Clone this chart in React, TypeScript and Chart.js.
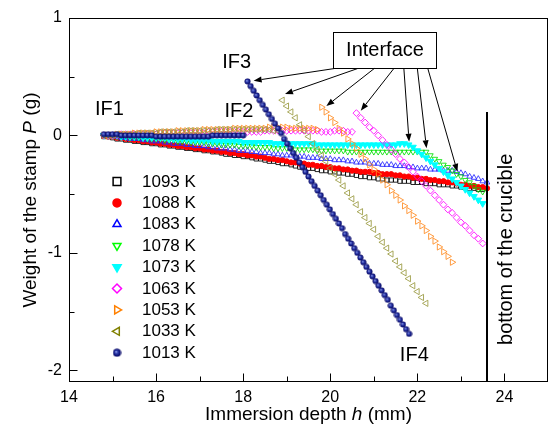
import React, { useEffect, useRef } from 'react';
import { Chart, registerables } from 'chart.js';
import { drawPoint } from 'chart.js/helpers';

Chart.register(...registerables);

// ---------------- data (immersion depth h in mm, weight P in g) ----------------
const depthGrid = [
  14.8, 14.9, 15.0, 15.1, 15.2, 15.3, 15.4, 15.5, 15.6, 15.7,
  15.8, 15.9, 16.0, 16.1, 16.2, 16.3, 16.4, 16.5, 16.6, 16.7,
  16.8, 16.9, 17.0, 17.1, 17.2, 17.3, 17.4, 17.5, 17.6, 17.7,
  17.8, 17.9, 18.0, 18.1, 18.2, 18.3, 18.4, 18.5, 18.6, 18.7,
  18.8, 18.9, 19.0, 19.1, 19.2, 19.3, 19.4, 19.5, 19.6, 19.7,
  19.8, 19.9, 20.0, 20.1, 20.2, 20.3, 20.4, 20.5, 20.6, 20.7,
  20.8, 20.9, 21.0, 21.1, 21.2, 21.3, 21.4, 21.5, 21.6, 21.7,
  21.8, 21.9, 22.0, 22.1, 22.2, 22.3, 22.4, 22.5, 22.6, 22.7,
  22.8, 22.9, 23.0, 23.1, 23.2, 23.3, 23.4, 23.5, 23.6,
];

const weight1093 = [
  -0.01, -0.01, -0.02, -0.03, -0.03, -0.04, -0.04, -0.05, -0.05, -0.06,
  -0.06, -0.07, -0.07, -0.08, -0.08, -0.09, -0.09, -0.10, -0.10, -0.11,
  -0.11, -0.12, -0.12, -0.13, -0.13, -0.14, -0.14, -0.15, -0.16, -0.16,
  -0.17, -0.17, -0.18, -0.18, -0.19, -0.20, -0.20, -0.21, -0.22, -0.22,
  -0.23, -0.24, -0.24, -0.25, -0.26, -0.27, -0.27, -0.28, -0.28, -0.29,
  -0.30, -0.30, -0.31, -0.31, -0.32, -0.32, -0.33, -0.33, -0.34, -0.35,
  -0.35, -0.36, -0.36, -0.37, -0.37, -0.38, -0.38, -0.38, -0.39, -0.39,
  -0.39, -0.40, -0.40, -0.40, -0.41, -0.41, -0.41, -0.42, -0.42, -0.42,
  -0.43, -0.43, -0.44, -0.44, -0.45, -0.45, -0.46, -0.46, null,
];

const weight1088 = [
  0.00, -0.01, -0.01, -0.02, -0.02, -0.03, -0.03, -0.04, -0.04, -0.05,
  -0.05, -0.06, -0.06, -0.07, -0.07, -0.08, -0.08, -0.09, -0.09, -0.10,
  -0.10, -0.11, -0.11, -0.12, -0.12, -0.13, -0.13, -0.14, -0.14, -0.15,
  -0.15, -0.16, -0.16, -0.17, -0.17, -0.18, -0.18, -0.19, -0.20, -0.20,
  -0.21, -0.21, -0.22, -0.23, -0.23, -0.24, -0.24, -0.25, -0.25, -0.26,
  -0.26, -0.27, -0.27, -0.28, -0.28, -0.29, -0.29, -0.30, -0.30, -0.31,
  -0.31, -0.31, -0.32, -0.32, -0.33, -0.33, -0.33, -0.34, -0.34, -0.35,
  -0.35, -0.36, -0.36, -0.37, -0.37, -0.38, -0.38, -0.39, -0.39, -0.40,
  -0.40, -0.41, -0.42, -0.42, -0.43, -0.43, -0.44, -0.44, -0.45,
];

const weight1083 = [
  0.00, 0.00, -0.01, -0.01, -0.02, -0.02, -0.03, -0.03, -0.03, -0.04,
  -0.04, -0.05, -0.05, -0.05, -0.06, -0.06, -0.07, -0.07, -0.07, -0.08,
  -0.08, -0.09, -0.09, -0.09, -0.10, -0.10, -0.11, -0.11, -0.11, -0.12,
  -0.12, -0.13, -0.13, -0.13, -0.14, -0.14, -0.15, -0.15, -0.15, -0.16,
  -0.16, -0.17, -0.17, -0.17, -0.18, -0.18, -0.18, -0.19, -0.19, -0.19,
  -0.20, -0.20, -0.20, -0.21, -0.21, -0.21, -0.22, -0.22, -0.23, -0.23,
  -0.23, -0.24, -0.24, -0.24, -0.25, -0.25, -0.25, -0.26, -0.26, -0.26,
  -0.27, -0.27, -0.28, -0.28, -0.28, -0.29, -0.29, -0.29, -0.30, -0.30,
  -0.30, -0.31, -0.32, -0.33, -0.35, -0.36, -0.37, -0.39, -0.40,
];

const weight1078 = [
  0.00, 0.00, 0.00, -0.01, -0.01, -0.01, -0.02, -0.02, -0.02, -0.02,
  -0.03, -0.03, -0.03, -0.03, -0.04, -0.04, -0.04, -0.05, -0.05, -0.05,
  -0.06, -0.06, -0.06, -0.06, -0.07, -0.07, -0.07, -0.08, -0.08, -0.08,
  -0.08, -0.09, -0.09, -0.09, -0.09, -0.10, -0.10, -0.10, -0.10, -0.11,
  -0.11, -0.11, -0.11, -0.11, -0.12, -0.12, -0.12, -0.12, -0.12, -0.13,
  -0.13, -0.13, -0.13, -0.13, -0.13, -0.13, -0.14, -0.14, -0.14, -0.14,
  -0.14, -0.14, -0.14, -0.14, -0.14, -0.14, -0.14, -0.14, -0.14, -0.14,
  -0.14, -0.14, -0.14, -0.14, -0.14, -0.17, -0.20, -0.22, -0.25, -0.27,
  -0.30, -0.33, -0.35, -0.38, -0.40, -0.43, -0.46, -0.48, null,
];

const weight1073 = [
  0.00, 0.00, 0.00, 0.00, -0.01, -0.01, -0.01, -0.01, -0.01, -0.02,
  -0.02, -0.02, -0.02, -0.02, -0.02, -0.03, -0.03, -0.03, -0.03, -0.03,
  -0.04, -0.04, -0.04, -0.04, -0.04, -0.05, -0.05, -0.05, -0.05, -0.05,
  -0.05, -0.05, -0.06, -0.06, -0.06, -0.06, -0.06, -0.06, -0.06, -0.07,
  -0.07, -0.07, -0.07, -0.07, -0.07, -0.07, -0.07, -0.07, -0.07, -0.08,
  -0.08, -0.08, -0.08, -0.08, -0.08, -0.08, -0.08, -0.08, -0.08, -0.08,
  -0.08, -0.08, -0.08, -0.08, -0.08, -0.08, -0.08, -0.08, -0.07, -0.07,
  -0.08, -0.10, -0.13, -0.16, -0.19, -0.22, -0.25, -0.28, -0.31, -0.34,
  -0.37, -0.40, -0.43, -0.46, -0.49, -0.52, -0.55, -0.58, null,
];

const weight1063 = [
  0.00, 0.00, 0.00, 0.00, 0.01, 0.01, 0.01, 0.01, 0.01, 0.01,
  0.01, 0.01, 0.01, 0.02, 0.02, 0.02, 0.02, 0.02, 0.02, 0.02,
  0.02, 0.02, 0.02, 0.02, 0.03, 0.03, 0.03, 0.03, 0.03, 0.03,
  0.03, 0.03, 0.03, 0.03, 0.03, 0.03, 0.03, 0.04, 0.04, 0.04,
  0.04, 0.04, 0.04, 0.04, 0.04, 0.04, 0.04, 0.04, 0.04, 0.04,
  0.03, 0.03, 0.03, 0.04, 0.04, 0.04, 0.03, 0.03, 0.19, 0.15,
  0.11, 0.07, 0.04, 0.00, -0.04, -0.08, -0.12, -0.16, -0.20, -0.23,
  -0.27, -0.31, -0.35, -0.39, -0.43, -0.47, -0.51, -0.55, -0.59, -0.63,
  -0.66, -0.70, -0.74, -0.77, -0.81, -0.85, -0.88, -0.92, null,
];

const weight1053 = [
  0.00, 0.00, 0.00, 0.01, 0.01, 0.01, 0.01, 0.02, 0.02, 0.02,
  0.02, 0.02, 0.03, 0.03, 0.03, 0.03, 0.03, 0.04, 0.04, 0.04,
  0.04, 0.04, 0.04, 0.05, 0.05, 0.05, 0.05, 0.05, 0.05, 0.05,
  0.06, 0.06, 0.06, 0.06, 0.06, 0.06, 0.06, 0.06, 0.07, 0.07,
  0.07, 0.07, 0.07, 0.06, 0.06, 0.06, 0.06, 0.06, 0.06, 0.05,
  0.24, 0.20, 0.15, 0.11, 0.06, 0.02, -0.03, -0.07, -0.11, -0.16,
  -0.20, -0.25, -0.29, -0.33, -0.38, -0.42, -0.47, -0.51, -0.55, -0.60,
  -0.64, -0.68, -0.73, -0.77, -0.81, -0.86, -0.90, -0.95, -0.99, -1.03,
  -1.08, null, null, null, null, null, null, null, null,
];

const weight1033 = [
  0.00, 0.00, 0.00, 0.01, 0.01, 0.01, 0.01, 0.01, 0.02, 0.02,
  0.02, 0.02, 0.02, 0.03, 0.03, 0.03, 0.03, 0.03, 0.03, 0.04,
  0.04, 0.04, 0.04, 0.04, 0.04, 0.04, 0.05, 0.05, 0.05, 0.05,
  0.05, 0.05, 0.05, 0.05, 0.05, 0.05, 0.05, 0.05, 0.05, 0.04,
  0.04, 0.30, 0.25, 0.20, 0.15, 0.09, 0.04, -0.01, -0.07, -0.12,
  -0.17, -0.22, -0.28, -0.33, -0.38, -0.43, -0.49, -0.54, -0.59, -0.65,
  -0.70, -0.75, -0.80, -0.86, -0.91, -0.96, -1.01, -1.07, -1.12, -1.17,
  -1.22, -1.28, -1.33, -1.38, -1.43, null, null, null, null, null,
  null, null, null, null, null, null, null, null, null,
];

// 1013 K: plateau read on depthGrid[0..32], then the steep branch
const weight1013Plateau = [
  0.01, 0.01, 0.01, 0.01, 0.00, 0.00, 0.00, 0.00, 0.00, 0.00,
  0.00, 0.00, -0.01, -0.01, -0.01, -0.01, -0.01, -0.01, -0.01, -0.01,
  -0.01, -0.01, -0.01, -0.01, -0.01, 0.00, 0.00, 0.00, 0.00, 0.00,
  0.00, 0.00, 0.00,
];
const depth1013Steep = [
  18.10, 18.17, 18.24, 18.31, 18.38, 18.45, 18.52, 18.59, 18.66, 18.73,
  18.80, 18.87, 18.94, 19.01, 19.08, 19.15, 19.22, 19.29, 19.36, 19.43,
  19.50, 19.57, 19.64, 19.71, 19.78, 19.85, 19.92, 19.99, 20.06, 20.13,
  20.20, 20.27, 20.34, 20.41, 20.48, 20.55, 20.62, 20.69, 20.76, 20.83,
  20.90, 20.97, 21.04, 21.11, 21.18, 21.25, 21.32, 21.39, 21.46, 21.53,
  21.60, 21.67, 21.74, 21.81,
];
const weight1013Steep = [
  0.46, 0.42, 0.38, 0.34, 0.30, 0.26, 0.22, 0.18, 0.14, 0.10,
  0.06, 0.02, -0.03, -0.07, -0.11, -0.15, -0.19, -0.23, -0.27, -0.31,
  -0.35, -0.39, -0.43, -0.47, -0.51, -0.55, -0.59, -0.63, -0.67, -0.71,
  -0.75, -0.79, -0.84, -0.88, -0.92, -0.96, -1.00, -1.04, -1.08, -1.12,
  -1.16, -1.20, -1.24, -1.28, -1.32, -1.36, -1.40, -1.45, -1.49, -1.53,
  -1.57, -1.61, -1.65, -1.69,
];

const seriesNames = ['1093 K', '1088 K', '1083 K', '1078 K', '1073 K', '1063 K', '1053 K', '1033 K', '1013 K'];

const xMajorTicks = [14, 16, 18, 20, 22, 24];
const xMinorTicks = [15, 17, 19, 21, 23];
const yMajorTicks = [-2, -1, 0, 1];
const yMinorTicks = [-1.5, -0.5, 0.5];

const crucibleDepth = 23.6;
const crucibleLineTop = 0.2;

const ifLabels = ['IF1', 'IF3', 'IF2', 'IF4'];
const ifLabelDepth = [14.93, 17.85, 17.9, 21.93];
const ifLabelWeight = [0.225, 0.617, 0.2, -1.87];

const interfaceBoxDepth = [20.06, 22.43];
const interfaceBoxWeight = [0.574, 0.88];
const arrowStartDepth = [20.1, 20.63, 21.01, 21.46, 21.69, 22.0, 22.24];
const arrowTipDepth = [18.24, 18.96, 19.91, 20.7, 21.81, 22.21, 22.92];
const arrowTipWeight = [0.466, 0.353, 0.25, 0.21, -0.054, -0.11, -0.31];

// ---------------- styles ----------------
const FONT = '"Liberation Sans", Arial, Helvetica, sans-serif';

type Sty = { color: string; dataColor: string; fill: boolean; style: string; rot: number; r: number; lr: number };
const styles: Sty[] = [
  { color: '#000000', dataColor: '#000000', fill: false, style: 'rect', rot: 0, r: 3, lr: 5.5 },
  { color: '#ff0000', dataColor: '#ff0000', fill: true, style: 'circle', rot: 0, r: 2.6, lr: 4 },
  { color: '#0000ff', dataColor: '#2828ff', fill: false, style: 'triangle', rot: 0, r: 3.2, lr: 4.6 },
  { color: '#00ff00', dataColor: '#00e000', fill: false, style: 'triangle', rot: 180, r: 3.2, lr: 4.6 },
  { color: '#00ffff', dataColor: '#00ffff', fill: true, style: 'triangle', rot: 180, r: 3.8, lr: 4.8 },
  { color: '#ff00ff', dataColor: '#ff00ff', fill: false, style: 'rectRot', rot: 0, r: 3.4, lr: 4.5 },
  { color: '#ff8000', dataColor: '#ff8a20', fill: false, style: 'triangle', rot: 90, r: 3.6, lr: 4.6 },
  { color: '#808000', dataColor: '#9a9a40', fill: false, style: 'triangle', rot: 270, r: 3.6, lr: 4.6 },
  { color: '#000080', dataColor: '#000080', fill: true, style: 'sphere', rot: 0, r: 3, lr: 4 },
];

function makeSphere(r: number): HTMLCanvasElement {
  const c = document.createElement('canvas');
  const size = Math.ceil(r * 2) + 1;
  c.width = size;
  c.height = size;
  const g = c.getContext('2d')!;
  const cx = size / 2;
  const cy = size / 2;
  const grad = g.createRadialGradient(cx - r * 0.25, cy - r * 0.25, 0, cx, cy, r);
  grad.addColorStop(0, '#b8c0ff');
  grad.addColorStop(0.35, '#3040b0');
  grad.addColorStop(1, '#000060');
  g.fillStyle = grad;
  g.beginPath();
  g.arc(cx, cy, r, 0, Math.PI * 2);
  g.fill();
  return c;
}

function toPoints(hs: number[], ps: (number | null)[]) {
  const out: { x: number; y: number }[] = [];
  ps.forEach((p, i) => {
    if (p !== null && p !== undefined) out.push({ x: hs[i], y: p });
  });
  return out;
}

function drawMixed(ctx: CanvasRenderingContext2D, parts: [string, boolean][], size: number, cx: number, cy: number) {
  const fonts = parts.map(([, it]) => `${it ? 'italic ' : ''}${size}px ${FONT}`);
  let total = 0;
  const widths = parts.map(([t], i) => {
    ctx.font = fonts[i];
    const w = ctx.measureText(t).width;
    total += w;
    return w;
  });
  let x = cx - total / 2;
  ctx.textAlign = 'left';
  ctx.textBaseline = 'middle';
  parts.forEach(([t], i) => {
    ctx.font = fonts[i];
    ctx.fillText(t, x, cy);
    x += widths[i];
  });
}

export default function App() {
  const ref = useRef<HTMLCanvasElement | null>(null);

  useEffect(() => {
    const canvas = ref.current;
    if (!canvas) return;
    const sphere = makeSphere(3);
    const sphereLegend = makeSphere(4);

    const weights = [weight1093, weight1088, weight1083, weight1078, weight1073, weight1063, weight1053, weight1033];
    const datasets: any[] = weights.map((w, i) => {
      const s = styles[i];
      return {
        label: seriesNames[i],
        data: toPoints(depthGrid, w),
        showLine: false,
        pointStyle: s.style,
        pointRotation: s.rot,
        pointRadius: s.r,
        pointBorderWidth: s.fill ? 1 : 0.85,
        pointBorderColor: s.dataColor,
        pointBackgroundColor: s.fill ? s.dataColor : 'rgba(0,0,0,0)',
        order: 9 - i,
      };
    });
    datasets.push({
      label: seriesNames[8],
      data: toPoints(depthGrid, weight1013Plateau).concat(toPoints(depth1013Steep, weight1013Steep)),
      showLine: false,
      pointStyle: sphere,
      pointRadius: 3,
      pointBorderWidth: 0,
      order: 1,
    });

    const overlay = {
      id: 'overlay',
      afterDraw(chart: any) {
        const { ctx, chartArea: a } = chart;
        const xs = chart.scales.x;
        const ys = chart.scales.y;
        const X = (v: number) => xs.getPixelForValue(v);
        const Y = (v: number) => ys.getPixelForValue(v);
        ctx.save();
        ctx.strokeStyle = '#000';
        ctx.fillStyle = '#000';
        ctx.lineWidth = 1;
        const L = Math.round(a.left) + 0.5;
        const R = Math.round(a.right) - 0.5;
        const T = Math.round(a.top) + 0.5;
        const B = Math.round(a.bottom) - 0.5;
        ctx.strokeRect(L, T, R - L, B - T);
        // inward ticks
        ctx.beginPath();
        xMajorTicks.forEach((v) => { const px = Math.round(X(v)) + 0.5; ctx.moveTo(px, B); ctx.lineTo(px, B - 8); });
        xMinorTicks.forEach((v) => { const px = Math.round(X(v)) + 0.5; ctx.moveTo(px, B); ctx.lineTo(px, B - 5); });
        yMajorTicks.forEach((v) => { const py = Math.round(Y(v)) + 0.5; ctx.moveTo(L, py); ctx.lineTo(L + 8, py); });
        yMinorTicks.forEach((v) => { const py = Math.round(Y(v)) + 0.5; ctx.moveTo(L, py); ctx.lineTo(L + 5, py); });
        ctx.stroke();

        // crucible bottom line
        ctx.lineWidth = 2;
        ctx.beginPath();
        const cxp = Math.round(X(crucibleDepth));
        ctx.moveTo(cxp, Y(crucibleLineTop));
        ctx.lineTo(cxp, B);
        ctx.stroke();

        // rotated crucible label
        ctx.save();
        ctx.translate(X(24.05), Y(-0.97));
        ctx.rotate(-Math.PI / 2);
        ctx.font = `20px ${FONT}`;
        ctx.textAlign = 'center';
        ctx.textBaseline = 'middle';
        ctx.fillText('bottom of the crucible', 0, 0);
        ctx.restore();

        // IF labels
        ctx.font = `20px ${FONT}`;
        ctx.textAlign = 'center';
        ctx.textBaseline = 'middle';
        ifLabels.forEach((t, i) => ctx.fillText(t, X(ifLabelDepth[i]), Y(ifLabelWeight[i])));

        // Interface box
        ctx.lineWidth = 1;
        const bx0 = Math.round(X(interfaceBoxDepth[0])) + 0.5;
        const bx1 = Math.round(X(interfaceBoxDepth[1])) + 0.5;
        const by0 = Math.round(Y(interfaceBoxWeight[1])) + 0.5;
        const by1 = Math.round(Y(interfaceBoxWeight[0])) + 0.5;
        ctx.fillStyle = '#fff';
        ctx.fillRect(bx0, by0, bx1 - bx0, by1 - by0);
        ctx.strokeRect(bx0, by0, bx1 - bx0, by1 - by0);
        ctx.fillStyle = '#000';
        ctx.fillText('Interface', (bx0 + bx1) / 2, (by0 + by1) / 2);

        // arrows
        arrowStartDepth.forEach((h0, i) => {
          const x0 = X(h0);
          const y0 = by1;
          const x1 = X(arrowTipDepth[i]);
          const y1 = Y(arrowTipWeight[i]);
          const ang = Math.atan2(y1 - y0, x1 - x0);
          const len = 8;
          const w = 3;
          const bxp = x1 - len * Math.cos(ang);
          const byp = y1 - len * Math.sin(ang);
          ctx.beginPath();
          ctx.moveTo(x0, y0);
          ctx.lineTo(bxp, byp);
          ctx.stroke();
          ctx.beginPath();
          ctx.moveTo(x1, y1);
          ctx.lineTo(bxp + w * Math.sin(ang), byp - w * Math.cos(ang));
          ctx.lineTo(bxp - w * Math.sin(ang), byp + w * Math.cos(ang));
          ctx.closePath();
          ctx.fill();
        });

        // legend
        seriesNames.forEach((name, i) => {
          const s = styles[i];
          const ly = 181.5 + i * 21.4;
          const lx = 117;
          ctx.save();
          ctx.lineWidth = 1.5;
          ctx.strokeStyle = s.color;
          ctx.fillStyle = s.fill ? s.color : 'rgba(0,0,0,0)';
          drawPoint(ctx, {
            pointStyle: s.style === 'sphere' ? sphereLegend : s.style,
            rotation: s.rot,
            radius: s.lr,
            borderWidth: s.style === 'sphere' ? 0 : 1.5,
          } as any, lx, ly);
          ctx.restore();
          ctx.fillStyle = '#000';
          ctx.font = `17px ${FONT}`;
          ctx.textAlign = 'left';
          ctx.textBaseline = 'middle';
          ctx.fillText(name, 142, ly + 0.5);
        });

        // axis titles
        ctx.fillStyle = '#000';
        drawMixed(ctx, [['Immersion depth ', false], ['h', true], [' (mm)', false]], 19, (a.left + a.right) / 2, 415);
        ctx.save();
        ctx.translate(31, (a.top + a.bottom) / 2);
        ctx.rotate(-Math.PI / 2);
        drawMixed(ctx, [['Weight of the stamp ', false], ['P', true], [' (g)', false]], 19, 0, 0);
        ctx.restore();

        ctx.restore();
      },
    };

    const chart = new Chart(canvas, {
      type: 'scatter',
      data: { datasets },
      options: {
        animation: false,
        responsive: false,
        maintainAspectRatio: false,
        devicePixelRatio: 1,
        events: [],
        layout: { padding: { left: 0, right: 1, top: 18, bottom: 0 } },
        plugins: { legend: { display: false }, tooltip: { enabled: false }, title: { display: false } },
        scales: {
          x: {
            type: 'linear',
            min: 14,
            max: 25,
            afterBuildTicks: (s: any) => { s.ticks = xMajorTicks.map((v) => ({ value: v })); },
            afterFit: (s: any) => { s.height = 54; },
            ticks: {
              autoSkip: false,
              maxRotation: 0,
              padding: 6,
              color: '#000',
              font: { family: FONT, size: 16 },
              callback: (v: any) => String(v),
            },
            grid: { display: false, drawTicks: false },
            border: { display: false },
          },
          y: {
            type: 'linear',
            min: -2.1,
            max: 1,
            afterBuildTicks: (s: any) => { s.ticks = yMajorTicks.map((v) => ({ value: v })); },
            afterFit: (s: any) => { s.width = 69; },
            ticks: {
              autoSkip: false,
              padding: 7,
              color: '#000',
              font: { family: FONT, size: 16 },
              callback: (v: any) => String(v),
            },
            grid: { display: false, drawTicks: false },
            border: { display: false },
          },
        },
      },
      plugins: [overlay],
    } as any);

    return () => chart.destroy();
  }, []);

  return (
    <div style={{ position: 'absolute', left: 0, top: 0, width: 553, height: 436, background: '#fff' }}>
      <canvas ref={ref} width={553} height={436} style={{ display: 'block', width: 553, height: 436 }} />
    </div>
  );
}
